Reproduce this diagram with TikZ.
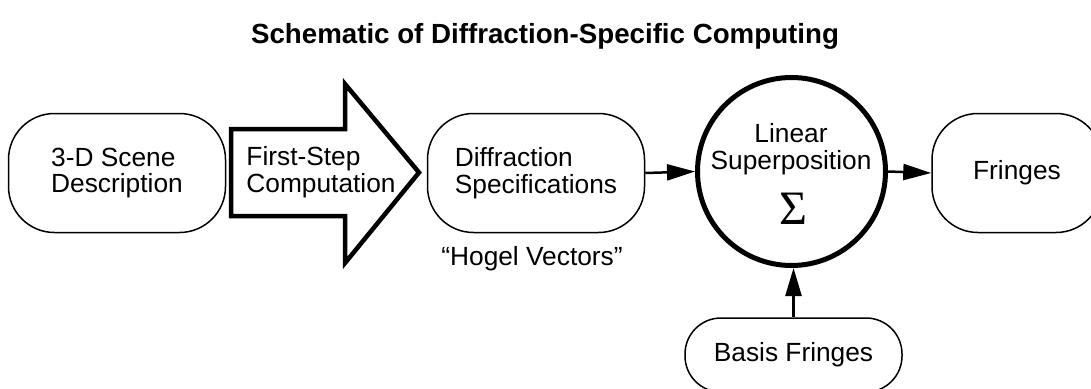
\documentclass[tikz,border=0pt]{standalone}
\usepackage{fontspec}
\setmainfont{Liberation Sans}
\newfontfamily\sigmafont{Liberation Serif}
\usetikzlibrary{arrows.meta}
\begin{document}
\begin{tikzpicture}[x=1pt,y=-1pt,
  bodyfont/.style={font=\fontsize{26.3}{26.5}\selectfont},
  stadium/.style={draw, line width=1.5pt, rounded corners=46pt, bodyfont, align=left, inner sep=0pt},
  conn/.style={line width=2.5pt, -{Triangle[length=28pt,width=16pt]}},
  bigarrow/.style={draw, line width=4.5pt, miter limit=10},
  label/.style={bodyfont, inner sep=0pt}
]
\useasboundingbox (0,0) rectangle (1091,388);
\begin{scope}
\clip (0,0) rectangle (1091,388);
\node[font=\fontsize{27.7}{30}\selectfont\bfseries, inner sep=0pt] (title) at (545,36) {Schematic of Diffraction-Specific Computing};
\node[stadium, minimum width=217pt, minimum height=119pt] (scene) at (117,173) {3-D Scene\\Description};
\draw[bigarrow] (231,129) -- (345,129) -- (345,84) -- (419,172.5) -- (345,263) -- (345,216) -- (231,216) -- cycle;
\node[label, align=left] (fs) at (321,172) {First-Step\\Computation};
\node[stadium, minimum width=217pt, minimum height=119pt] (spec) at (536,173) {Diffraction\\Specifications};
\node[label] (hogel) at (532,259) {“Hogel Vectors”};
\node[circle, draw, line width=5pt, minimum size=188pt, inner sep=0pt] (sum) at (791.5,171.5) {};
\node[label, align=center] (lin) at (791,149) {Linear\\Superposition};
\node[inner sep=0pt, font=\sigmafont\fontsize{48}{48}\selectfont] (sig) at (793,209) {Σ};
\node[stadium, minimum width=170pt, minimum height=119pt, align=center] (fringes) at (1017,173) {Fringes};
\node[stadium, rounded corners=36pt, minimum width=217pt, minimum height=74pt, align=center] (basis) at (793.5,355) {Basis Fringes};
\draw[conn] (spec.east) -- (sum.west);
\draw[conn] (sum.east) -- (fringes.west);
\draw[conn] (basis.north) -- (basis.north |- sum.south);
\end{scope}
\end{tikzpicture}
\end{document}
